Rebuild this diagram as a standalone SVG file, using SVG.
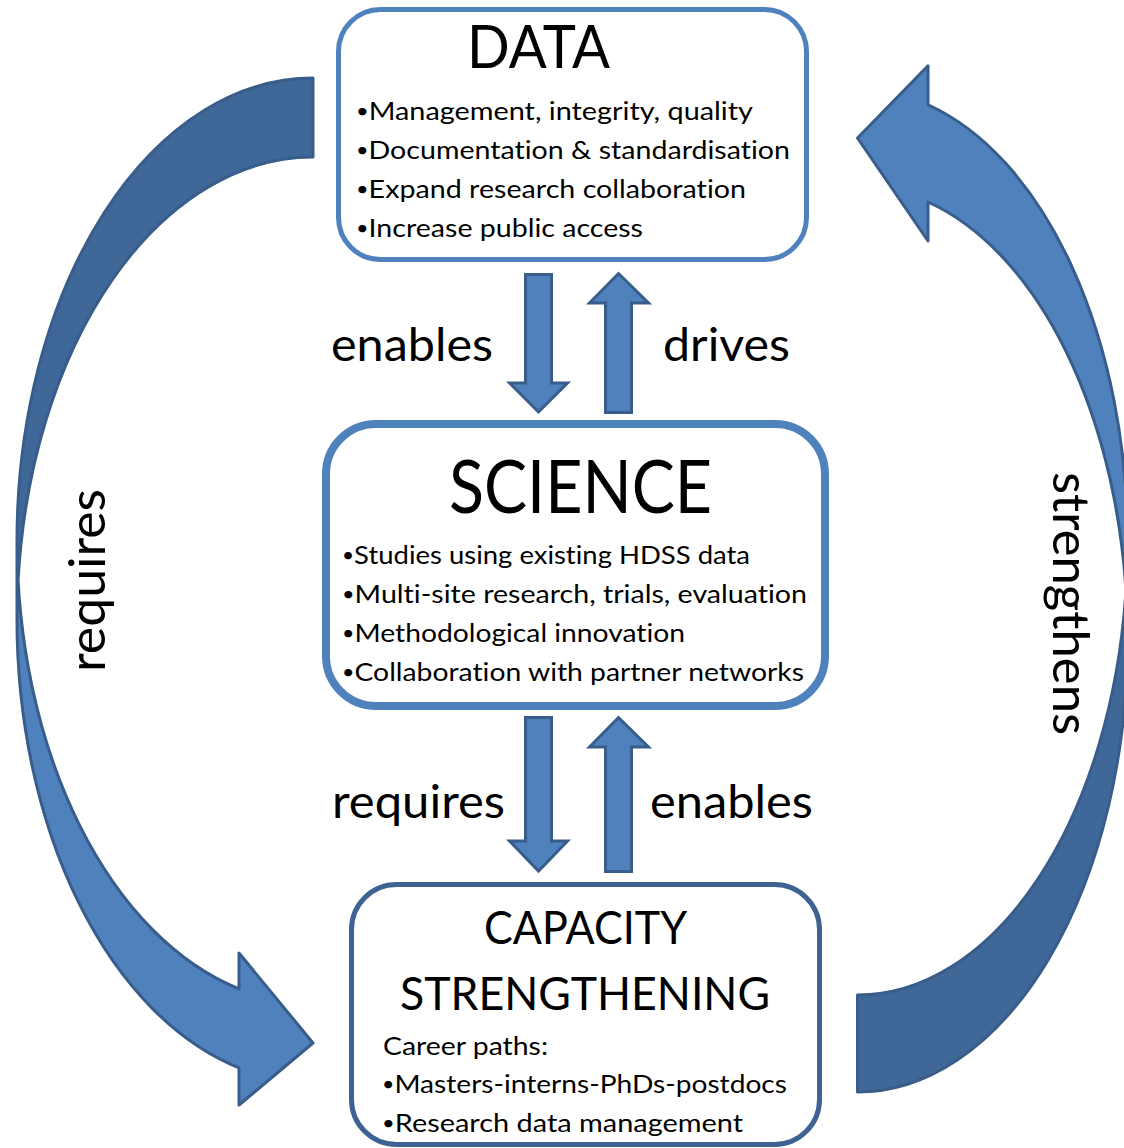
<svg xmlns="http://www.w3.org/2000/svg" width="1124" height="1148" viewBox="0 0 1124 1148">
<style>
.bg{fill:#ffffff}
.front{fill:#4F81BD;stroke:none}
.back{fill:#3F6797;stroke:none}
.outl{fill:none;stroke:#385D8A;stroke-width:3;stroke-linejoin:round}
.blk{fill:#4F81BD;stroke:#385D8A;stroke-width:3;stroke-linejoin:miter}
.box{fill:#ffffff}
.t{font-family:Lato,"Liberation Sans",sans-serif;fill:#000000;font-variant-ligatures:none;font-feature-settings:"liga" 0,"dlig" 0}
.title1{font-size:60px}
.title2{font-size:74px}
.title3{font-size:47px}
.bul{font-size:25px}
.b{font-size:19px}
.lab{font-size:47px}
.vlab{font-size:50px}
</style>
<rect class="bg" x="0" y="0" width="1124" height="1148"/>
<g id="connectors">
  <g id="arrow-left-requires">
    <path class="front" d="M17,540.75 A296,462.75 0 0 0 239,988.85 L239,953 L313,1043 L239,1105 L239,1067.85 A296,462.75 0 0 1 17,619.75 Z"/>
    <path class="back" d="M313,78 A296,462.75 0 0 0 18.08,580.25 A296,462.75 0 0 1 313,157 Z"/>
    <path class="outl" d="M17,540.75 A296,462.75 0 0 0 239,988.85 L239,953 L313,1043 L239,1105 L239,1067.85 A296,462.75 0 0 1 17,619.75 L17,540.75 A296,462.75 0 0 1 313,78 L313,157 A296,462.75 0 0 0 18.08,580.25"/>
    <text class="t vlab" transform="translate(105,580.5) rotate(-90)" x="0" y="0" text-anchor="middle" textLength="183" lengthAdjust="spacingAndGlyphs">requires</text>
  </g>
  <g id="arrow-right-strengthens">
    <path class="front" d="M1127.5,639.25 A270,452.75 0 0 0 928,202 L928,241 L857.5,138 L928,65.75 L928,104.75 A270,452.75 0 0 1 1127.5,542.25 Z"/>
    <path class="back" d="M857.5,1092 A270,452.75 0 0 0 1125.95,590.75 A270,452.75 0 0 1 857.5,995 Z"/>
    <path class="outl" d="M1127.5,639.25 A270,452.75 0 0 0 928,202 L928,241 L857.5,138 L928,65.75 L928,104.75 A270,452.75 0 0 1 1127.5,542.25 L1127.5,639.25 A270,452.75 0 0 1 857.5,1092 L857.5,995 A270,452.75 0 0 0 1125.95,590.75"/>
    <text class="t vlab" transform="translate(1053,603.5) rotate(90)" x="0" y="0" text-anchor="middle" textLength="263" lengthAdjust="spacingAndGlyphs">strengthens</text>
  </g>
  <g id="arrow-data-science">
    <path class="blk" d="M525.5,274.5 L551.5,274.5 L551.5,383 L567.5,383 L538.5,412 L509.5,383 L525.5,383 Z"/>
    <text class="t lab" x="331" y="361" textLength="162" lengthAdjust="spacingAndGlyphs">enables</text>
  </g>
  <g id="arrow-science-data">
    <path class="blk" d="M605.5,412.5 L631.5,412.5 L631.5,303 L648.5,303 L618.5,273.5 L589.5,303 L605.5,303 Z"/>
    <text class="t lab" x="663" y="361" textLength="127" lengthAdjust="spacingAndGlyphs">drives</text>
  </g>
  <g id="arrow-science-capacity">
    <path class="blk" d="M525.5,717.5 L551.5,717.5 L551.5,841 L567.5,841 L538.5,871 L509.5,841 L525.5,841 Z"/>
    <text class="t lab" x="332" y="818" textLength="173" lengthAdjust="spacingAndGlyphs">requires</text>
  </g>
  <g id="arrow-capacity-science">
    <path class="blk" d="M605.5,871.5 L631.5,871.5 L631.5,747 L648.5,747 L618.5,717.5 L589.5,747 L605.5,747 Z"/>
    <text class="t lab" x="650" y="818" textLength="163" lengthAdjust="spacingAndGlyphs">enables</text>
  </g>
</g>
<g id="node-data">
  <rect class="box" x="338.5" y="9.5" width="468" height="250" rx="42" ry="42" stroke="#4F81BD" stroke-width="5"/>
  <text class="t title1" x="467" y="68" textLength="143" lengthAdjust="spacingAndGlyphs">DATA</text>
  <text class="t bul" x="356" y="120" textLength="397" lengthAdjust="spacingAndGlyphs"><tspan class="b" dy="-2">•</tspan><tspan dy="2">Management, integrity, quality</tspan></text>
  <text class="t bul" x="356" y="159" textLength="434" lengthAdjust="spacingAndGlyphs"><tspan class="b" dy="-2">•</tspan><tspan dy="2">Documentation &amp; standardisation</tspan></text>
  <text class="t bul" x="356" y="198" textLength="390" lengthAdjust="spacingAndGlyphs"><tspan class="b" dy="-2">•</tspan><tspan dy="2">Expand research collaboration</tspan></text>
  <text class="t bul" x="356" y="237" textLength="287" lengthAdjust="spacingAndGlyphs"><tspan class="b" dy="-2">•</tspan><tspan dy="2">Increase public access</tspan></text>
</g>
<g id="node-science">
  <rect class="box" x="326" y="424" width="499" height="282" rx="50" ry="50" stroke="#4F81BD" stroke-width="8"/>
  <text class="t title2" x="449" y="513" textLength="263" lengthAdjust="spacingAndGlyphs">SCIENCE</text>
  <text class="t bul" x="342" y="564" textLength="408" lengthAdjust="spacingAndGlyphs"><tspan class="b" dy="-2">•</tspan><tspan dy="2">Studies using existing HDSS data</tspan></text>
  <text class="t bul" x="342" y="603" textLength="465" lengthAdjust="spacingAndGlyphs"><tspan class="b" dy="-2">•</tspan><tspan dy="2">Multi-site research, trials, evaluation</tspan></text>
  <text class="t bul" x="342" y="642" textLength="343" lengthAdjust="spacingAndGlyphs"><tspan class="b" dy="-2">•</tspan><tspan dy="2">Methodological innovation</tspan></text>
  <text class="t bul" x="342" y="681" textLength="462" lengthAdjust="spacingAndGlyphs"><tspan class="b" dy="-2">•</tspan><tspan dy="2">Collaboration with partner networks</tspan></text>
</g>
<g id="node-capacity">
  <rect class="box" x="351.5" y="884.5" width="468" height="260" rx="45" ry="45" stroke="#3E6393" stroke-width="5"/>
  <text class="t title3" x="484" y="944" textLength="203" lengthAdjust="spacingAndGlyphs">CAPACITY</text>
  <text class="t title3" x="400" y="1010" textLength="370" lengthAdjust="spacingAndGlyphs">STRENGTHENING</text>
  <text class="t bul" x="383" y="1055" textLength="165" lengthAdjust="spacingAndGlyphs">Career paths:</text>
  <text class="t bul" x="382" y="1093" textLength="405" lengthAdjust="spacingAndGlyphs"><tspan class="b" dy="-2">•</tspan><tspan dy="2">Masters-interns-PhDs-postdocs</tspan></text>
  <text class="t bul" x="382" y="1132" textLength="361" lengthAdjust="spacingAndGlyphs"><tspan class="b" dy="-2">•</tspan><tspan dy="2">Research data management</tspan></text>
</g>
</svg>
